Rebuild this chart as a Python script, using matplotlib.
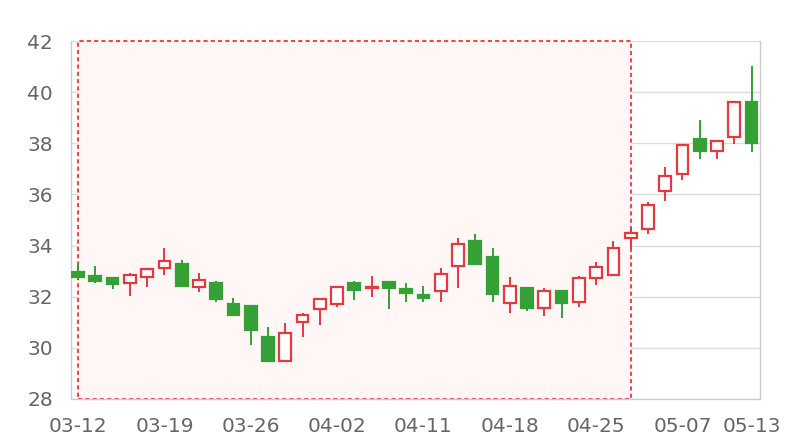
import matplotlib
matplotlib.use('Agg')
import matplotlib.pyplot as plt
from matplotlib.patches import Rectangle

# Daily candles (open, close, low, high)
dates = ['03-12', '03-13', '03-14', '03-15', '03-18', '03-19', '03-20', '03-21', '03-22', '03-25',
         '03-26', '03-27', '03-28', '03-29', '04-01', '04-02', '04-03', '04-08', '04-09', '04-10',
         '04-11', '04-12', '04-15', '04-16', '04-17', '04-18', '04-19', '04-22', '04-23', '04-24',
         '04-25', '04-26', '04-29', '04-30', '05-06', '05-07', '05-08', '05-09', '05-10', '05-13']
opens = [32.95, 32.80, 32.72, 32.52, 32.78, 33.12, 33.27, 32.37, 32.52, 31.70,
         31.64, 30.44, 29.50, 31.01, 31.51, 31.73, 32.52, 32.33, 32.59, 32.29,
         32.05, 32.24, 33.20, 34.18, 33.57, 31.74, 32.35, 31.54, 32.24, 31.78,
         32.73, 32.85, 34.28, 34.65, 36.13, 36.80, 38.18, 37.70, 38.23, 39.60]
closes = [32.76, 32.62, 32.50, 32.85, 33.10, 33.40, 32.42, 32.65, 31.92, 31.28,
          30.70, 29.50, 30.57, 31.27, 31.91, 32.38, 32.25, 32.39, 32.35, 32.16,
          31.94, 32.88, 34.05, 33.27, 32.11, 32.42, 31.54, 32.24, 31.74, 32.75,
          33.17, 33.89, 34.48, 35.59, 36.73, 37.93, 37.69, 38.10, 39.60, 38.02]
lows = [32.65, 32.52, 32.29, 32.04, 32.39, 32.85, 32.39, 32.18, 31.78, 31.28,
        30.11, 29.50, 29.50, 30.44, 30.88, 31.61, 31.86, 32.00, 31.51, 31.78,
        31.78, 31.80, 32.35, 33.25, 31.78, 31.35, 31.45, 31.25, 31.17, 31.61,
        32.46, 32.85, 33.85, 34.45, 35.75, 36.56, 37.39, 37.39, 37.96, 37.67]
highs = [33.27, 33.21, 32.78, 32.91, 33.10, 33.89, 33.43, 32.94, 32.63, 31.96,
         31.64, 30.80, 30.96, 31.35, 31.91, 32.38, 32.61, 32.81, 32.59, 32.52,
         32.43, 33.13, 34.28, 34.44, 33.89, 32.76, 32.35, 32.33, 32.24, 32.81,
         33.36, 34.19, 34.67, 35.72, 37.08, 37.93, 38.91, 38.10, 39.60, 41.02]
tick_labels = ['03-12', '03-19', '03-26', '04-02', '04-11', '04-18', '04-25', '05-07', '05-13']
area_start, area_end = '03-12', '04-29'

RED = '#e3393f'
GREEN = '#35a035'

fig = plt.figure(figsize=(8, 4.4), dpi=100)
ax = fig.add_axes([0.08875, 0.0932, 0.95 - 0.08875, 0.9068 - 0.0932])

x = list(range(len(dates)))
w = 0.68
for i in x:
    o, c, lo, hi = opens[i], closes[i], lows[i], highs[i]
    up = c >= o
    col = RED if up else GREEN
    ax.vlines(i, lo, hi, color=col, linewidth=1.4, zorder=3)
    body = max(abs(c - o), 0.04)
    ax.add_patch(Rectangle((i - w / 2, min(o, c)), w, body,
                           facecolor='white' if up else col,
                           edgecolor=col, linewidth=1.6, zorder=4))

# highlighted range
x0, x1 = dates.index(area_start), dates.index(area_end)
ax.add_patch(Rectangle((x0, 28), x1 - x0, 14, facecolor='#fff6f6', edgecolor='none', zorder=1))
ax.add_patch(Rectangle((x0, 28), x1 - x0, 14, facecolor='none', edgecolor='#ec4a4f',
                       linewidth=1.5, linestyle=(0, (2.0, 1.5)), zorder=2, clip_on=False))

ax.set_xlim(-0.41, 39.49)
ax.set_ylim(28, 42)
ax.set_yticks(range(28, 43, 2))
ax.set_xticks([dates.index(d) for d in tick_labels])
ax.set_xticklabels(tick_labels)
ax.grid(axis='y', color='#dcdcdc', linewidth=1, zorder=0)
ax.set_axisbelow(True)

for s in ['left', 'right', 'bottom']:
    ax.spines[s].set_color('#cccccc')
    ax.spines[s].set_linewidth(1)
ax.spines['top'].set_visible(False)
ax.tick_params(axis='both', length=0, labelsize=14.5, labelcolor='#666666')
ax.tick_params(axis='y', pad=13)
ax.tick_params(axis='x', pad=13)

fig.savefig('out.png', dpi=100)
